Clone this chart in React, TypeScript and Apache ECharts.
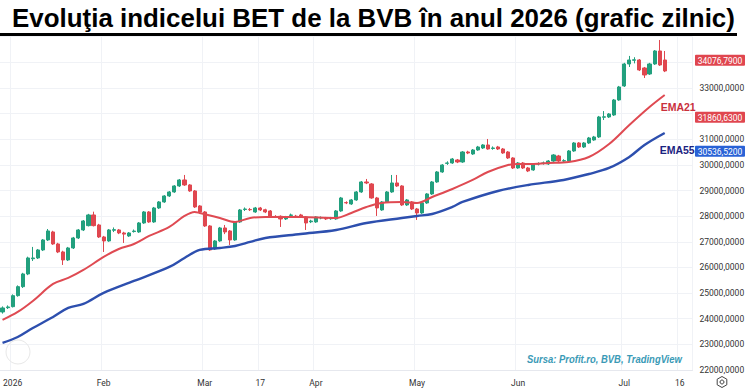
import React, { useEffect, useRef } from 'react';
import * as echarts from 'echarts';

const TITLE = 'Evoluţia indicelui BET de la BVB în anul 2026 (grafic zilnic)';
const SOURCE = 'Sursa: Profit.ro, BVB, TradingView';

// trading calendar
const START_DATE = '2025-12-29';
const DAY_COUNT = 137;
const HOLIDAYS = ['2025-12-31', '2026-01-01', '2026-01-02', '2026-01-06', '2026-01-07', '2026-04-10', '2026-04-13', '2026-05-01', '2026-06-01'];

// x-axis tick labels: [date, label]
const TICK_LABELS: [string, string][] = [
  ['2026-01-05', '2026'], ['2026-02-02', 'Feb'], ['2026-03-02', 'Mar'], ['2026-03-17', '17'],
  ['2026-04-01', 'Apr'], ['2026-05-04', 'May'], ['2026-06-02', 'Jun'], ['2026-07-01', 'Jul'], ['2026-07-16', '16'],
];

// daily candles: [open, close, low, high]
const CANDLES: [number, number, number, number][] = [
  [24264, 24420, 24200, 24480], [24430, 24459, 24380, 24520], [24471, 24900, 24440, 24950], [24900, 25251, 24860, 25300],
  [25251, 25746, 25200, 25790], [25746, 26370, 25700, 26420], [26340, 26370, 26253, 26800], [26370, 26682, 26330, 26720],
  [26682, 27072, 26640, 27110], [27072, 27423, 27030, 27500], [27384, 26916, 26880, 27430], [26916, 26604, 26560, 26960],
  [26604, 26292, 26097, 26650], [26292, 26760, 26250, 26800], [26760, 27150, 26720, 27190], [27150, 27462, 27110, 27500],
  [27462, 27813, 27420, 27850], [27630, 28047, 27600, 28090], [28047, 27630, 27600, 28176], [27657, 27189, 27150, 27700],
  [27189, 27033, 26604, 27230], [27033, 27462, 27000, 27500], [27450, 27475, 27380, 27560], [27462, 27345, 27300, 27500],
  [27345, 27300, 26955, 27390], [27228, 27345, 27190, 27380], [27400, 27420, 27360, 27480], [27384, 27735, 27350, 27770],
  [27735, 28164, 27700, 28200], [28164, 27774, 27740, 28200], [27774, 28320, 27740, 28360], [28320, 28554, 28280, 28590],
  [28554, 28788, 28520, 28820], [28788, 28944, 28750, 28980], [28944, 29178, 28910, 29210], [29178, 29412, 29140, 29450],
  [29412, 29217, 29180, 29607], [29217, 28983, 28950, 29250], [28983, 28359, 28320, 29020], [28398, 28164, 28120, 28430],
  [28164, 27618, 27580, 28200], [27618, 26682, 26650, 27650], [26721, 27033, 26680, 27070], [27033, 27540, 27000, 27580],
  [27540, 27384, 27300, 27657], [27423, 27072, 26877, 27460], [27072, 27774, 27040, 27810], [27774, 28242, 27740, 28280],
  [28260, 28280, 28200, 28340], [28262, 28250, 28200, 28320], [28164, 28320, 28130, 28360], [28320, 28242, 28200, 28360],
  [28250, 28164, 28120, 28290], [28203, 27969, 27930, 28240], [27990, 27975, 27930, 28040], [27996, 27891, 27579, 28030],
  [27891, 27969, 27850, 28010], [28030, 28047, 27980, 28100], [28000, 27990, 27940, 28050], [28047, 27969, 27930, 28090],
  [27969, 27735, 27462, 28000], [27780, 27810, 27730, 27860], [27774, 27969, 27740, 28000], [27930, 27945, 27880, 27990],
  [27930, 27891, 27850, 27970], [27900, 27920, 27860, 27970], [27891, 28203, 27860, 28240], [28203, 28710, 28170, 28750],
  [28530, 28520, 28470, 28580], [28476, 28632, 28440, 28670], [28632, 28944, 28600, 28980], [28944, 29334, 28910, 29370],
  [29334, 29295, 29250, 29451], [29256, 28710, 28680, 29290], [28710, 28320, 28008, 28750], [28242, 28554, 28210, 28590],
  [28554, 28944, 28520, 28980], [28944, 29295, 28910, 29607], [29295, 29178, 29140, 29607], [29178, 28437, 28400, 29210],
  [28437, 28632, 28400, 28670], [28554, 28281, 28240, 28590], [28281, 28125, 27852, 28320], [28125, 28515, 28090, 28550],
  [28515, 28866, 28480, 28900], [28866, 29334, 28830, 29370], [29334, 29724, 29300, 29760], [29724, 29997, 29690, 30030],
  [30060, 30075, 30000, 30140], [30075, 30231, 30040, 30270], [30192, 30114, 30070, 30230], [30114, 30504, 30080, 30540],
  [30504, 30465, 30420, 30550], [30426, 30582, 30390, 30620], [30582, 30699, 30550, 30740], [30660, 30777, 30620, 30810],
  [30777, 30621, 30590, 31011], [30640, 30660, 30590, 30720], [30699, 30621, 30580, 30740], [30621, 30465, 30430, 30660],
  [30504, 30270, 30230, 30540], [30270, 29880, 29840, 30300], [29880, 30075, 29850, 30110], [30075, 29880, 29840, 30110],
  [29880, 29763, 29720, 29920], [29802, 30036, 29770, 30070], [30030, 30045, 29980, 30100], [30060, 30075, 30010, 30130],
  [30036, 30153, 30000, 30190], [30153, 30387, 30120, 30420], [30348, 30153, 30110, 30390], [30150, 30165, 30100, 30220],
  [30153, 30543, 30120, 30580], [30543, 30855, 30510, 30890], [30855, 30699, 30660, 30890], [30699, 30855, 30660, 30890],
  [30855, 31050, 30820, 31090], [30972, 31089, 30940, 31130], [31089, 31869, 31050, 31910], [31860, 31875, 31750, 32100],
  [31869, 31986, 31830, 32020], [31947, 32532, 31910, 32570], [32532, 33039, 32500, 33080], [33078, 33936, 33040, 33980],
  [33936, 34092, 33819, 34250], [34080, 34100, 33960, 34200], [34092, 33702, 33660, 34130], [33780, 33507, 33390, 33820],
  [33546, 33936, 33510, 33980], [33936, 34443, 33900, 34480], [34443, 33897, 33860, 34872], [34092, 33663, 33620, 34443],
];

// EMA lines: [day index, value]
const EMA21: [number, number][] = [
  [0, 23952], [3, 24264], [6, 24693], [10, 25356], [13, 25590], [16, 25902], [20, 26409], [23, 26721], [26, 26916],
  [29, 27228], [33, 27579], [36, 28008], [38, 28164], [39, 28125], [43, 27930], [46, 27774], [49, 27930], [52, 27969],
  [59, 27969], [66, 27930], [69, 28125], [72, 28359], [75, 28515], [79, 28554], [82, 28515], [85, 28749], [89, 29061],
  [93, 29412], [96, 29724], [100, 29997], [102, 30036], [104, 30036], [108, 30075], [112, 30114], [116, 30309],
  [120, 30816], [124, 31557], [128, 32259], [131, 32727],
];
const EMA55: [number, number][] = [
  [0, 23055], [3, 23289], [6, 23640], [10, 24069], [13, 24420], [16, 24576], [20, 25005], [26, 25473], [33, 26019],
  [36, 26370], [39, 26682], [43, 26760], [46, 26838], [49, 26994], [52, 27150], [59, 27306], [66, 27462], [72, 27735],
  [79, 27930], [82, 28008], [85, 28086], [89, 28359], [91, 28554], [98, 28983], [104, 29217], [111, 29412],
  [116, 29646], [120, 29880], [124, 30309], [127, 30777], [131, 31245],
];

// price-scale labels: [value, colour]
const PRICE_TAGS: [number, string][] = [
  [34076.79, '#e0464f'],
  [31860.63, '#e0464f'],
  [30536.52, '#2962d6'],
];

const Y_MIN = 22000;
const Y_MAX = 35000;
const Y_STEP = 1000;
const HIDDEN_Y_LABELS = [32000, 34000, 35000];

const UP = '#22a07e';
const DOWN = '#e0474f';
const EMA21_COLOR = '#df4a52';
const EMA55_COLOR = '#2d4fae';

function tradingDays(start: string, count: number, holidays: string[]): string[] {
  const out: string[] = [];
  const d = new Date(start + 'T00:00:00Z');
  while (out.length < count) {
    const iso = d.toISOString().slice(0, 10);
    const wd = d.getUTCDay();
    if (wd !== 0 && wd !== 6 && !holidays.includes(iso)) out.push(iso);
    d.setUTCDate(d.getUTCDate() + 1);
  }
  return out;
}

function fmt(v: number): string {
  return v.toFixed(4).replace('.', ',');
}

function measure(text: string, font: string): number {
  const ctx = document.createElement('canvas').getContext('2d');
  if (!ctx) return 1;
  ctx.font = font;
  return ctx.measureText(text).width;
}

export default function App() {
  const ref = useRef<HTMLDivElement>(null);
  useEffect(() => {
    if (!ref.current) return;
    const chart = echarts.init(ref.current, null, { renderer: 'svg' });
    const dates = tradingDays(START_DATE, DAY_COUNT, HOLIDAYS);
    const labelMap: Record<string, string> = {};
    TICK_LABELS.forEach(([d, l]) => (labelMap[d] = l));
    const tickIdx = new Set(dates.map((d, i) => (labelMap[d] ? i : -1)).filter((i) => i >= 0));
    const showTick = (i: number) => tickIdx.has(i);

    const titleFont = 'bold 26px "Liberation Sans", Arial, sans-serif';
    const titleScale = 723 / measure(TITLE, titleFont);
    const srcFont = 'italic bold 10px "Liberation Sans", Arial, sans-serif';
    const srcScale = 155 / measure(SOURCE, srcFont);

    chart.setOption({
      animation: false,
      backgroundColor: '#ffffff',
      grid: { left: -1.5, right: 57.5, top: 36.7, bottom: 22 },
      xAxis: {
        type: 'category',
        data: dates,
        boundaryGap: true,
        axisLine: { show: true, lineStyle: { color: '#e6e8ee' } },
        axisTick: { show: false },
        axisLabel: {
          interval: (i: number) => showTick(i),
          formatter: (v: string) => labelMap[v] || '',
          fontSize: 8.5,
          color: '#333',
          margin: 8,
          fontFamily: 'Roboto, sans-serif',
        },
        splitLine: { show: true, interval: (i: number) => showTick(i), lineStyle: { color: '#f0f2f6' } },
      },
      yAxis: {
        type: 'value',
        position: 'right',
        min: Y_MIN,
        max: Y_MAX,
        interval: Y_STEP,
        axisLine: { show: false },
        axisTick: { show: false },
        axisLabel: {
          formatter: (v: number) => (HIDDEN_Y_LABELS.includes(v) ? '' : fmt(v)),
          fontSize: 8.5,
          color: '#333',
          margin: 7,
          fontFamily: 'Roboto, sans-serif',
        },
        splitLine: { lineStyle: { color: '#f0f2f6' } },
      },
      series: [
        {
          type: 'candlestick',
          data: CANDLES,
          barWidth: 3.6,
          itemStyle: { color: UP, color0: DOWN, borderColor: UP, borderColor0: DOWN, borderWidth: 1 },
        },
        {
          type: 'line',
          data: EMA21,
          smooth: 0.35,
          symbol: 'none',
          lineStyle: { color: EMA21_COLOR, width: 2 },
          endLabel: {
            show: true,
            formatter: 'EMA21',
            color: '#c9303c',
            fontWeight: 'bold',
            fontSize: 10.5,
            fontFamily: '"Liberation Sans", Arial, sans-serif',
            offset: [-12, 12],
          },
        },
        {
          type: 'line',
          data: EMA55,
          smooth: 0.35,
          symbol: 'none',
          lineStyle: { color: EMA55_COLOR, width: 2.4 },
          endLabel: {
            show: true,
            formatter: 'EMA55',
            color: '#1b237f',
            fontWeight: 'bold',
            fontSize: 10.5,
            fontFamily: '"Liberation Sans", Arial, sans-serif',
            offset: [-13, 17],
          },
        },
      ],
    });

    const tags: any[] = [];
    PRICE_TAGS.forEach(([value, color]) => {
      const y = chart.convertToPixel({ yAxisIndex: 0 }, value) as number;
      tags.push({
        type: 'rect',
        z: 100,
        shape: { x: 695, y: y - 5.5, width: 50, height: 11, r: 1 },
        style: { fill: color },
      });
      tags.push({
        type: 'text',
        z: 101,
        x: 720,
        y: y + 0.5,
        style: {
          text: fmt(value),
          fill: '#fff',
          font: '8.5px Roboto, sans-serif',
          align: 'center',
          verticalAlign: 'middle',
        },
      });
    });

    chart.setOption({
      graphic: [
        {
          type: 'text',
          x: 12,
          y: 18,
          scaleX: titleScale,
          style: { text: TITLE, font: titleFont, fill: '#000', verticalAlign: 'middle' },
        },
        { type: 'rect', shape: { x: 0, y: 33, width: 737, height: 3 }, style: { fill: '#000' } },
        {
          type: 'text',
          x: 527,
          y: 359,
          scaleX: srcScale,
          style: { text: SOURCE, font: srcFont, fill: '#3a9ab6', verticalAlign: 'middle' },
        },
        { type: 'circle', shape: { cx: 18, cy: 352, r: 12 }, style: { fill: 'none', stroke: '#e8e8e8', lineWidth: 1 } },
        {
          type: 'polygon',
          shape: { points: [[722, 376.5], [726.8, 379.2], [726.8, 384.8], [722, 387.5], [717.2, 384.8], [717.2, 379.2]] },
          style: { fill: 'none', stroke: '#444', lineWidth: 1 },
        },
        { type: 'circle', shape: { cx: 722, cy: 382, r: 2 }, style: { fill: 'none', stroke: '#444', lineWidth: 1 } },
        ...tags,
      ],
    });
    return () => chart.dispose();
  }, []);
  return <div ref={ref} style={{ position: 'fixed', left: 0, top: 0, width: 750, height: 392, background: '#fff' }} />;
}
